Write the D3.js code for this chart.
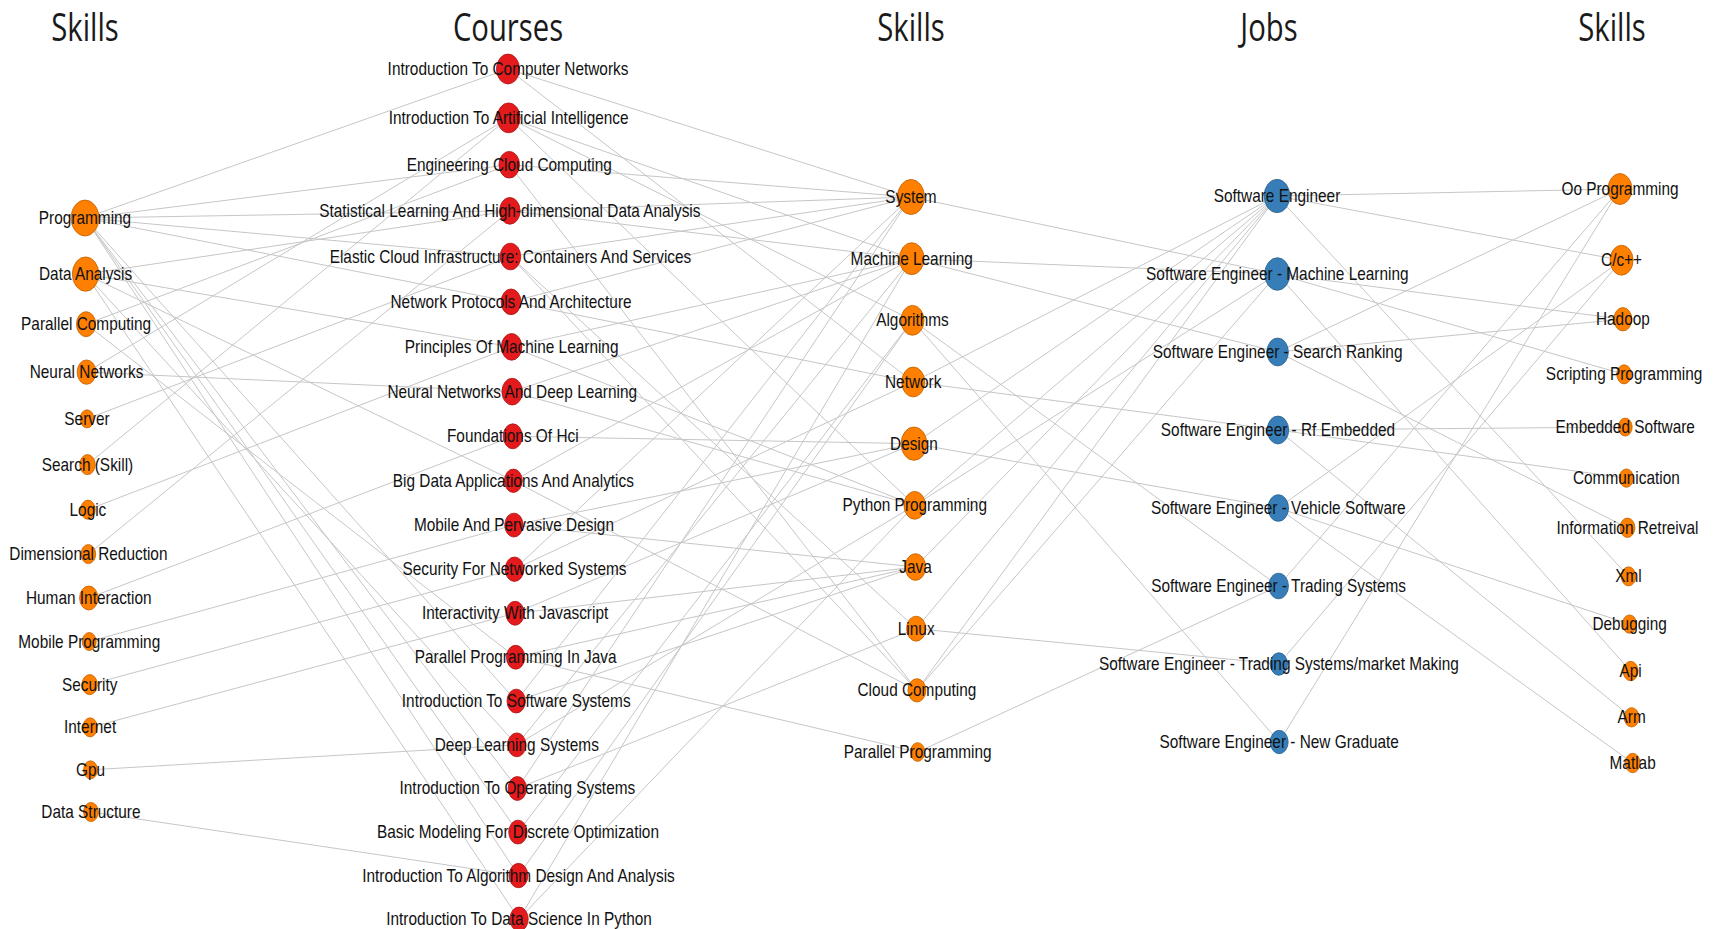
<!DOCTYPE html>
<meta charset="utf-8">
<title>Skills - Courses - Skills - Jobs - Skills</title>
<style>
  body { margin: 0; background: #fff; }
  .link { stroke: #c6c6c6; stroke-width: 1; fill: none; }
  .label { font-family: "Liberation Sans", Arial, sans-serif; font-size: 18px; fill: #111; }
  .title { font-family: "Open Sans", sans-serif; font-weight: 400; font-size: 38px; fill: #1a1a1a; }
</style>
<body>
<script src="https://d3js.org/d3.v7.min.js"></script>
<script>

var width = 1715,
    height = 929,
    squeeze = 0.77;   // picture is narrower than tall: nodes are ellipses, text is condensed

// columns and their headers
var columns = ["skillsLeft", "courses", "skillsMid", "jobs", "skillsRight"];
var columnTitles = ["Skills", "Courses", "Skills", "Jobs", "Skills"];

// column 1 : skills
var leftSkills = ["Programming", "Data Analysis", "Parallel Computing", "Neural Networks", "Server",
  "Search (Skill)", "Logic", "Dimensional Reduction", "Human Interaction", "Mobile Programming",
  "Security", "Internet", "Gpu", "Data Structure"];
var leftSkillCounts = [100, 91, 48, 46, 25, 31, 28, 28, 44, 25, 31, 28, 25, 28];

// column 2 : courses
var courses = ["Introduction To Computer Networks", "Introduction To Artificial Intelligence",
  "Engineering Cloud Computing", "Statistical Learning And High-dimensional Data Analysis",
  "Elastic Cloud Infrastructure: Containers And Services", "Network Protocols And Architecture",
  "Principles Of Machine Learning", "Neural Networks And Deep Learning", "Foundations Of Hci",
  "Big Data Applications And Analytics", "Mobile And Pervasive Design", "Security For Networked Systems",
  "Interactivity With Javascript", "Parallel Programming In Java", "Introduction To Software Systems",
  "Deep Learning Systems", "Introduction To Operating Systems", "Basic Modeling For Discrete Optimization",
  "Introduction To Algorithm Design And Analysis", "Introduction To Data Science In Python"];
var courseCounts = [69, 69, 55, 55, 55, 51, 55, 55, 48, 42, 44, 46, 44, 44, 44, 44, 44, 44, 46, 44];

// column 3 : skills
var midSkills = ["System", "Machine Learning", "Algorithms", "Network", "Design", "Python Programming",
  "Java", "Linux", "Cloud Computing", "Parallel Programming"];
var midSkillCounts = [95, 79, 69, 69, 86, 60, 55, 48, 42, 27];

// column 4 : jobs
var jobs = ["Software Engineer", "Software Engineer - Machine Learning", "Software Engineer - Search Ranking",
  "Software Engineer - Rf Embedded", "Software Engineer - Vehicle Software", "Software Engineer - Trading Systems",
  "Software Engineer - Trading Systems/market Making", "Software Engineer - New Graduate"];
var jobCounts = [86, 82, 60, 60, 55, 51, 39, 42];

// column 5 : skills
var rightSkills = ["Oo Programming", "C/c++", "Hadoop", "Scripting Programming", "Embedded Software",
  "Communication", "Information Retreival", "Xml", "Debugging", "Api", "Arm", "Matlab"];
var rightSkillCounts = [74, 69, 42, 28, 25, 26, 29, 28, 26, 29, 29, 29];

// links between neighbouring columns
var skillCourseLinks = [
  ["Programming", "Introduction To Computer Networks"],
  ["Programming", "Engineering Cloud Computing"],
  ["Programming", "Statistical Learning And High-dimensional Data Analysis"],
  ["Programming", "Elastic Cloud Infrastructure: Containers And Services"],
  ["Programming", "Network Protocols And Architecture"],
  ["Programming", "Introduction To Software Systems"],
  ["Programming", "Introduction To Operating Systems"],
  ["Programming", "Basic Modeling For Discrete Optimization"],
  ["Programming", "Introduction To Algorithm Design And Analysis"],
  ["Data Analysis", "Statistical Learning And High-dimensional Data Analysis"],
  ["Data Analysis", "Principles Of Machine Learning"],
  ["Data Analysis", "Big Data Applications And Analytics"],
  ["Data Analysis", "Deep Learning Systems"],
  ["Data Analysis", "Introduction To Data Science In Python"],
  ["Parallel Computing", "Engineering Cloud Computing"],
  ["Parallel Computing", "Parallel Programming In Java"],
  ["Neural Networks", "Introduction To Artificial Intelligence"],
  ["Neural Networks", "Neural Networks And Deep Learning"],
  ["Server", "Elastic Cloud Infrastructure: Containers And Services"],
  ["Search (Skill)", "Introduction To Artificial Intelligence"],
  ["Logic", "Principles Of Machine Learning"],
  ["Dimensional Reduction", "Statistical Learning And High-dimensional Data Analysis"],
  ["Human Interaction", "Foundations Of Hci"],
  ["Mobile Programming", "Mobile And Pervasive Design"],
  ["Security", "Security For Networked Systems"],
  ["Internet", "Interactivity With Javascript"],
  ["Gpu", "Deep Learning Systems"],
  ["Data Structure", "Introduction To Algorithm Design And Analysis"]
];

var courseSkillLinks = [
  ["Introduction To Computer Networks", "System"],
  ["Introduction To Computer Networks", "Network"],
  ["Introduction To Artificial Intelligence", "Machine Learning"],
  ["Introduction To Artificial Intelligence", "Algorithms"],
  ["Introduction To Artificial Intelligence", "Python Programming"],
  ["Engineering Cloud Computing", "System"],
  ["Engineering Cloud Computing", "Cloud Computing"],
  ["Statistical Learning And High-dimensional Data Analysis", "Machine Learning"],
  ["Statistical Learning And High-dimensional Data Analysis", "System"],
  ["Elastic Cloud Infrastructure: Containers And Services", "System"],
  ["Elastic Cloud Infrastructure: Containers And Services", "Cloud Computing"],
  ["Elastic Cloud Infrastructure: Containers And Services", "Linux"],
  ["Network Protocols And Architecture", "System"],
  ["Network Protocols And Architecture", "Network"],
  ["Principles Of Machine Learning", "Machine Learning"],
  ["Principles Of Machine Learning", "Python Programming"],
  ["Neural Networks And Deep Learning", "Machine Learning"],
  ["Neural Networks And Deep Learning", "Python Programming"],
  ["Foundations Of Hci", "Design"],
  ["Big Data Applications And Analytics", "Machine Learning"],
  ["Big Data Applications And Analytics", "Cloud Computing"],
  ["Mobile And Pervasive Design", "Design"],
  ["Mobile And Pervasive Design", "Java"],
  ["Security For Networked Systems", "Network"],
  ["Security For Networked Systems", "System"],
  ["Interactivity With Javascript", "Java"],
  ["Interactivity With Javascript", "Design"],
  ["Parallel Programming In Java", "Java"],
  ["Parallel Programming In Java", "Parallel Programming"],
  ["Introduction To Software Systems", "System"],
  ["Introduction To Software Systems", "Java"],
  ["Deep Learning Systems", "Machine Learning"],
  ["Deep Learning Systems", "Python Programming"],
  ["Introduction To Operating Systems", "System"],
  ["Introduction To Operating Systems", "Linux"],
  ["Basic Modeling For Discrete Optimization", "Algorithms"],
  ["Introduction To Algorithm Design And Analysis", "Algorithms"],
  ["Introduction To Data Science In Python", "Python Programming"],
  ["Introduction To Data Science In Python", "Machine Learning"]
];

var skillJobLinks = [
  ["System", "Software Engineer - Machine Learning"],
  ["Machine Learning", "Software Engineer - Machine Learning"],
  ["Machine Learning", "Software Engineer - Search Ranking"],
  ["Algorithms", "Software Engineer - Trading Systems"],
  ["Algorithms", "Software Engineer - New Graduate"],
  ["Network", "Software Engineer"],
  ["Network", "Software Engineer - Rf Embedded"],
  ["Design", "Software Engineer"],
  ["Design", "Software Engineer - Vehicle Software"],
  ["Python Programming", "Software Engineer"],
  ["Python Programming", "Software Engineer - Machine Learning"],
  ["Java", "Software Engineer"],
  ["Linux", "Software Engineer"],
  ["Linux", "Software Engineer - Trading Systems/market Making"],
  ["Cloud Computing", "Software Engineer"],
  ["Cloud Computing", "Software Engineer - Machine Learning"],
  ["Parallel Programming", "Software Engineer - Trading Systems"]
];

var jobSkillLinks = [
  ["Software Engineer", "Oo Programming"],
  ["Software Engineer", "C/c++"],
  ["Software Engineer", "Xml"],
  ["Software Engineer - Machine Learning", "Hadoop"],
  ["Software Engineer - Machine Learning", "Scripting Programming"],
  ["Software Engineer - Machine Learning", "Api"],
  ["Software Engineer - Search Ranking", "Oo Programming"],
  ["Software Engineer - Search Ranking", "Hadoop"],
  ["Software Engineer - Search Ranking", "Information Retreival"],
  ["Software Engineer - Rf Embedded", "Embedded Software"],
  ["Software Engineer - Rf Embedded", "Communication"],
  ["Software Engineer - Rf Embedded", "Arm"],
  ["Software Engineer - Vehicle Software", "C/c++"],
  ["Software Engineer - Vehicle Software", "Debugging"],
  ["Software Engineer - Vehicle Software", "Matlab"],
  ["Software Engineer - Trading Systems", "Oo Programming"],
  ["Software Engineer - Trading Systems/market Making", "C/c++"],
  ["Software Engineer - New Graduate", "Oo Programming"]
];

// ---- layout ----
// x of the top node in each column
var colX = d3.scaleOrdinal().domain(columns).range([85, 508, 911, 1277, 1620]);

// vertical extent, spacing curve and rightward drift of each column
var colLayout = {
  skillsLeft:  { top: 218, bottom: 812, exp: 0.92, lean: 0.010 },
  courses:     { top: 69,  bottom: 919, exp: 0.97, lean: 0.013 },
  skillsMid:   { top: 197, bottom: 752, exp: 1,    lean: 0.012 },
  jobs:        { top: 196, bottom: 742, exp: 1,    lean: 0.004 },
  skillsRight: { top: 189, bottom: 763, exp: 0.87, lean: 0.022 }
};

var kindOf = { skillsLeft: "skill", courses: "course", skillsMid: "skill", jobs: "job", skillsRight: "skill" };

var color = d3.scaleOrdinal()
  .domain(["skill", "course", "job"])
  .range([d3.schemeSet1[4], d3.schemeSet1[0], d3.schemeSet1[1]]);

var radius = d3.scaleSqrt().domain([0, 100]).range([0, 18]);

var nodes = [];
var byId = {};

function addColumn(col, names, counts) {
  var L = colLayout[col];
  var y = d3.scalePow().exponent(L.exp).domain([0, names.length - 1]).range([L.top, L.bottom]);
  names.forEach(function (name, i) {
    var d = { id: col + "|" + name, name: name, col: col, kind: kindOf[col], count: counts[i] };
    d.y = y(i);
    d.x = colX(col) + L.lean * (d.y - L.top);
    d.r = radius(d.count);
    nodes.push(d);
    byId[d.id] = d;
  });
}

addColumn("skillsLeft", leftSkills, leftSkillCounts);
addColumn("courses", courses, courseCounts);
addColumn("skillsMid", midSkills, midSkillCounts);
addColumn("jobs", jobs, jobCounts);
addColumn("skillsRight", rightSkills, rightSkillCounts);

var links = [];
function addLinks(pairs, colA, colB) {
  pairs.forEach(function (p) {
    links.push({ source: byId[colA + "|" + p[0]], target: byId[colB + "|" + p[1]] });
  });
}
addLinks(skillCourseLinks, "skillsLeft", "courses");
addLinks(courseSkillLinks, "courses", "skillsMid");
addLinks(skillJobLinks, "skillsMid", "jobs");
addLinks(jobSkillLinks, "jobs", "skillsRight");

// ---- drawing ----
var svg = d3.select("body").append("svg")
  .attr("width", width)
  .attr("height", height)
  .style("display", "block");

svg.append("rect").attr("width", width).attr("height", height).attr("fill", "#fff");

svg.append("g")
  .selectAll("line")
  .data(links)
  .join("line")
    .attr("class", "link")
    .attr("x1", d => d.source.x)
    .attr("y1", d => d.source.y)
    .attr("x2", d => d.target.x)
    .attr("y2", d => d.target.y);

svg.append("g")
  .selectAll("ellipse")
  .data(nodes)
  .join("ellipse")
    .attr("cx", d => d.x)
    .attr("cy", d => d.y)
    .attr("rx", d => d.r * squeeze)
    .attr("ry", d => d.r)
    .attr("fill", d => color(d.kind))
    .attr("stroke", d => d3.color(color(d.kind)).darker(0.8))
    .attr("stroke-width", 0.8);

svg.append("g")
  .selectAll("text")
  .data(nodes)
  .join("text")
    .attr("class", "label")
    .attr("text-anchor", "middle")
    .attr("transform", d => "translate(" + d.x + "," + (d.y + 6) + ") scale(0.855,1)")
    .text(d => d.name);

// headers sit a little left of the leaning columns' top nodes
svg.append("g")
  .selectAll("text")
  .data(columns)
  .join("text")
    .attr("class", "title")
    .attr("text-anchor", "middle")
    .attr("transform", (c, i) => "translate(" + (colX(c) - (i > 2 ? 8 : 0)) + ",41) scale(0.77,1)")
    .text((c, i) => columnTitles[i]);

</script>
</body>
</html>
